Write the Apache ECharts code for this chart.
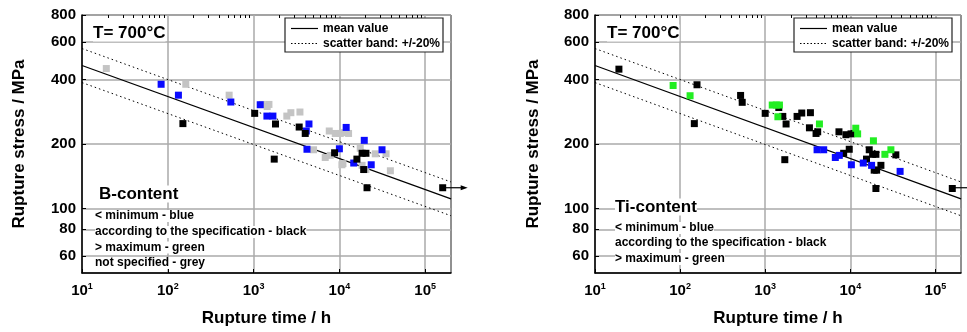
<!DOCTYPE html>
<html><head><meta charset="utf-8">
<script src="https://cdn.jsdelivr.net/npm/echarts@6/dist/echarts.min.js"></script>
<style>html,body{margin:0;padding:0;background:#fff}#c{width:967px;height:332px}</style>
</head><body><div id="c"></div>
<script>
// ---- data ----
const xMajorTicks = [10, 100, 1000, 10000, 100000];
const xMinorTicks = [20,30,40,50,60,70,80,90,200,300,400,500,600,700,800,900,2000,3000,4000,5000,6000,7000,8000,9000,20000,30000,40000,50000,60000,70000,80000,90000];
const yTicks = [60, 80, 100, 200, 400, 600, 800];

const meanLine = [[10, 465], [200000, 111]];
const upperBand = [[10, 558], [200000, 133]];
const lowerBand = [[10, 387], [200000, 92.5]];

// Panel 1: B-content
const bGrey = [[19.2,450],[162,380],[519,338],[1260,306],[1510,306],[1440,299],[2440,270],[2720,280],[3470,282],[7620,230],[8960,224],[10250,224],[11200,226],[12800,224],[5000,188],[6840,173],[7830,177],[10700,160],[11000,162],[17500,191],[18400,159],[26200,180],[35000,180],[39300,150],[20400,152]];
const bBlue = [[83.6,380],[133,338],[543,314],[1195,305],[1430,270],[1680,270],[4420,248],[4110,230],[4190,189],[12000,239],[10000,190],[19500,208],[14700,163],[23500,160],[31400,188]];
const bBlack = [[150,249],[1030,278],[1800,248],[1740,170],[3400,240],[4000,224],[8800,182],[16000,170],[18400,181],[20400,181],[19200,152],[21000,125],[160000,125]];

// Panel 2: Ti-content
const tBlack = [[19.1,447],[158,378],[147,249],[514,337],[537,313],[1000,278],[1445,296],[1610,269],[1760,248],[1700,169],[2370,269],[2690,279],[3400,280],[3310,238],[3960,224],[4140,228],[7360,228],[8890,221],[10200,223],[11100,224],[9720,189],[8360,181],[16700,188],[18300,179],[20000,179],[15500,170],[22900,159],[19100,151],[20400,151],[20000,124],[34300,178],[158000,124]];
const tGreen = [[82.8,375],[131,336],[1210,304],[1350,304],[1470,304],[1410,268],[4340,248],[11600,237],[12200,223],[18700,207],[25500,179],[30000,188]];
const tBlue = [[4070,188],[4870,188],[6670,173],[7430,177],[10300,160],[14200,163],[17800,159],[38500,149]];

const arrowPoint = [160000, 125];

// ---- chart ----
const FONT = '"Liberation Sans", Arial, sans-serif';
const chart = echarts.init(document.getElementById('c'), null, {renderer: 'canvas'});

const grids = [
  {left: 82, top: 15, width: 369, height: 260},
  {left: 595, top: 15, width: 366, height: 258}
];
const panels = [
  {series: [['grey', bGrey, '#c4c4c4'], ['blue', bBlue, '#0a0aff'], ['black', bBlack, '#000000']]},
  {series: [['black', tBlack, '#000000'], ['blue', tBlue, '#0a0aff'], ['green', tGreen, '#22ee22']]}
];

const option = {
  animation: false,
  backgroundColor: '#ffffff',
  grid: grids.map(g => Object.assign({show: true, borderColor: '#222', borderWidth: 1, backgroundColor: 'transparent', containLabel: false}, g)),
  xAxis: [],
  yAxis: [],
  series: []
};

grids.forEach((g, i) => {
  option.xAxis.push({
    type: 'log', gridIndex: i, min: 10, max: 200000, logBase: 10,
    name: 'Rupture time / h', nameLocation: 'middle', nameGap: 37,
    nameTextStyle: {fontFamily: FONT, fontSize: 17, fontWeight: 'bold', color: '#000'},
    axisLine: {show: true, lineStyle: {color: '#000', width: 1.5}},
    axisTick: {show: true, inside: true, length: 4, lineStyle: {color: '#000', width: 1}, customValues: xMajorTicks},
    axisLabel: {
      customValues: xMajorTicks, margin: 9, color: '#000',
      formatter: v => '{b|10}{s|' + Math.round(Math.log10(v)) + '}',
      rich: {
        b: {fontFamily: FONT, fontSize: 15, fontWeight: 'bold', color: '#000'},
        s: {fontFamily: FONT, fontSize: 9, fontWeight: 'bold', color: '#000', verticalAlign: 'bottom', padding: [0, 0, 9, 0]}
      }
    },
    splitLine: {show: true, lineStyle: {color: '#aaaaaa', width: 1.5}}
  });
  option.xAxis.push({
    type: 'log', gridIndex: i, min: 10, max: 200000, logBase: 10,
    axisLine: {show: false},
    axisTick: {show: true, inside: true, length: 3, lineStyle: {color: '#000', width: 1}, customValues: xMinorTicks},
    axisLabel: {show: false},
    splitLine: {show: false}
  });
  option.yAxis.push({
    type: 'log', gridIndex: i, min: 50, max: 800, logBase: 10,
    name: 'Rupture stress / MPa', nameLocation: 'middle', nameGap: i === 0 ? 54 : 53,
    nameTextStyle: {fontFamily: FONT, fontSize: 17, fontWeight: 'bold', color: '#000'},
    axisLine: {show: true, lineStyle: {color: '#000', width: 1.5}},
    axisTick: {show: true, inside: true, length: 4, lineStyle: {color: '#000', width: 1}, customValues: yTicks},
    axisLabel: {customValues: yTicks, margin: 6, fontFamily: FONT, fontSize: 15, fontWeight: 'bold', color: '#000'},
    splitLine: {show: true, lineStyle: {color: '#aaaaaa', width: 1.5}}
  });
  const xi = i * 2;
  option.series.push(
    {type: 'line', xAxisIndex: xi, yAxisIndex: i, data: meanLine, showSymbol: false, symbol: 'none', z: 3,
     lineStyle: {color: '#000', width: 1.3}},
    {type: 'line', xAxisIndex: xi, yAxisIndex: i, data: upperBand, showSymbol: false, symbol: 'none', z: 3,
     lineStyle: {color: '#000', width: 1, type: [1.5, 3]}},
    {type: 'line', xAxisIndex: xi, yAxisIndex: i, data: lowerBand, showSymbol: false, symbol: 'none', z: 3,
     lineStyle: {color: '#000', width: 1, type: [1.5, 3]}}
  );
  panels[i].series.forEach(([name, data, color]) => {
    option.series.push({type: 'scatter', name, xAxisIndex: xi, yAxisIndex: i, data, symbol: 'rect', symbolSize: 7, z: 4,
      itemStyle: {color, opacity: 1}});
  });
});

chart.setOption(option);

// ---- annotations ----
function txt(id, x, y, text, size, weight, opts) {
  return {
    type: 'text', id, x, y, z: 50,
    style: Object.assign({text, font: (weight || 'bold') + ' ' + size + 'px ' + FONT, fill: '#000', verticalAlign: 'middle', backgroundColor: '#fff'}, opts || {})
  };
}
const graphics = [];
const legendBoxes = [{x: 285, y: 18}, {x: 794, y: 18}];
legendBoxes.forEach((b, i) => {
  graphics.push({type: 'rect', id: 'lb' + i, z: 50, shape: {x: b.x, y: b.y, width: 158, height: 34}, style: {fill: '#fff', stroke: '#222', lineWidth: 1.2}});
  graphics.push({type: 'line', id: 'lm' + i, z: 51, shape: {x1: b.x + 6, y1: b.y + 10.5, x2: b.x + 33, y2: b.y + 10.5}, style: {stroke: '#000', lineWidth: 1.2}});
  graphics.push({type: 'line', id: 'ls' + i, z: 51, shape: {x1: b.x + 6, y1: b.y + 25.5, x2: b.x + 33, y2: b.y + 25.5}, style: {stroke: '#000', lineWidth: 1, lineDash: [1.5, 2]}});
  graphics.push(txt('tm' + i, b.x + 38, b.y + 10.5, 'mean value', 12, 'bold', {backgroundColor: null}));
  graphics.push(txt('ts' + i, b.x + 38, b.y + 25.5, 'scatter band: +/-20%', 12, 'bold', {backgroundColor: null}));
});
graphics.push(txt('T0', 93, 33, 'T= 700°C', 17, 'bold'));
graphics.push(txt('T1', 607, 33, 'T= 700°C', 17, 'bold'));
graphics.push(txt('B0', 99, 194, 'B-content', 17, 'bold'));
graphics.push(txt('B1', 95, 216, '< minimum - blue', 12, 'bold'));
graphics.push(txt('B2', 95, 232, 'according to the specification - black', 12, 'bold'));
graphics.push(txt('B3', 95, 247.5, '> maximum - green', 12, 'bold'));
graphics.push(txt('B4', 95, 263, 'not specified - grey', 12, 'bold'));
graphics.push(txt('C0', 615, 207, 'Ti-content', 17, 'bold'));
graphics.push(txt('C1', 615, 228, '< minimum - blue', 12, 'bold'));
graphics.push(txt('C2', 615, 243, 'according to the specification - black', 12, 'bold'));
graphics.push(txt('C3', 615, 259, '> maximum - green', 12, 'bold'));

[0, 1].forEach(i => {
  const p = chart.convertToPixel({xAxisIndex: i * 2, yAxisIndex: i}, arrowPoint);
  const endX = p[0] + 25;
  graphics.push({type: 'line', id: 'al' + i, z: 60, shape: {x1: p[0], y1: p[1], x2: endX - 5, y2: p[1]}, style: {stroke: '#000', lineWidth: 1.2}});
  graphics.push({type: 'polygon', id: 'ah' + i, z: 60, shape: {points: [[endX, p[1]], [endX - 7, p[1] - 2.5], [endX - 7, p[1] + 2.5]]}, style: {fill: '#000'}});
});

chart.setOption({graphic: graphics});
</script>
</body></html>
